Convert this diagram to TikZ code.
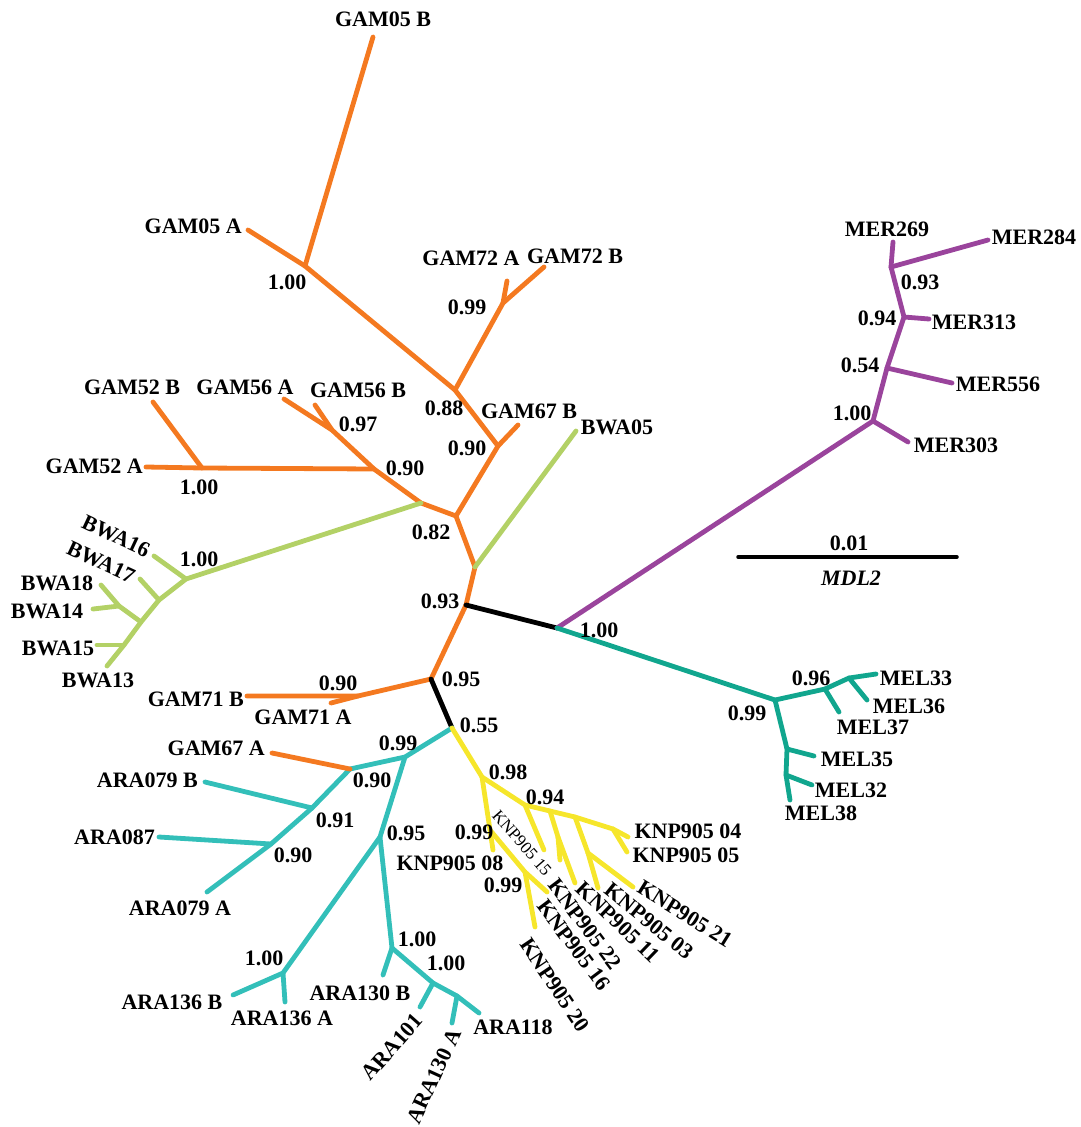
\documentclass[tikz,border=0pt]{standalone}
\usepackage{fontspec}
\setmainfont{Liberation Serif}
\definecolor{org}{HTML}{F47920}
\definecolor{lgr}{HTML}{B3D166}
\definecolor{pur}{HTML}{9A449C}
\definecolor{tea}{HTML}{11A68E}
\definecolor{cya}{HTML}{33BFB9}
\definecolor{yel}{HTML}{F6E62B}
\begin{document}
\begin{tikzpicture}[x=1pt,y=-1pt,
  br/.style={line width=4.8pt,line cap=round,line join=round},
  ob/.style={br,draw=org}, gb/.style={br,draw=lgr}, pb/.style={br,draw=pur},
  tb/.style={br,draw=tea}, cb/.style={br,draw=cya}, yb/.style={br,draw=yel},
  kb/.style={br,draw=black},
  lab/.style={font=\fontsize{22}{26}\selectfont\bfseries,inner sep=0pt},
  smalllab/.style={font=\fontsize{17}{20}\selectfont,inner sep=0pt}]
\useasboundingbox (0,0) rectangle (1080,1127);
% ---------- coordinates: orange ----------
\coordinate (g05B) at (373,37);  \coordinate (g05A) at (248,230);
\coordinate (n05) at (305,266);  \coordinate (n88) at (455,390);
\coordinate (n72) at (503,303);  \coordinate (g72A) at (507,281);
\coordinate (g72B) at (544,267); \coordinate (n90b) at (498,446);
\coordinate (g67B) at (518,425); \coordinate (n82) at (456,516);
\coordinate (nX) at (421,503);   \coordinate (n90a) at (374,469);
\coordinate (n52) at (202,468);  \coordinate (g52A) at (146,467);
\coordinate (g52B) at (153,402); \coordinate (n97) at (332,430);
\coordinate (g56A) at (284,399); \coordinate (g56B) at (315,405);
\coordinate (nY) at (475,567);   \coordinate (n93) at (466,605);
\coordinate (n95) at (431,679);  \coordinate (n71) at (358,696);
\coordinate (g71B) at (247,696); \coordinate (g71A) at (331,703);
\coordinate (n55) at (452,728);
% green
\coordinate (b1) at (186,579);  \coordinate (w16) at (154,556);
\coordinate (b2) at (159,600);  \coordinate (w17) at (140,579);
\coordinate (b3) at (141,622);  \coordinate (b4) at (119,606);
\coordinate (w18) at (101,585); \coordinate (w14) at (93,609);
\coordinate (b5) at (124,645);  \coordinate (w15) at (97,645);
\coordinate (w13) at (107,666); \coordinate (w05) at (576,431);
% purple
\coordinate (m1) at (557,628);
\coordinate (p1) at (873,421);  \coordinate (r303) at (908,442);
\coordinate (p2) at (887,368);  \coordinate (r556) at (952,383);
\coordinate (p3) at (904,317);  \coordinate (r313) at (929,319);
\coordinate (p4) at (891,267);  \coordinate (r269) at (893,242);
\coordinate (r284) at (988,240);
% teal
\coordinate (t1) at (775,700);  \coordinate (t2) at (825,689);
\coordinate (l37) at (839,712); \coordinate (t3) at (849,678);
\coordinate (l33) at (876,674); \coordinate (l36) at (867,700);
\coordinate (t4) at (787,749);  \coordinate (l35) at (814,756);
\coordinate (t5) at (786,775);  \coordinate (l32) at (812,785);
\coordinate (l38) at (790,800);
% cyan
\coordinate (a1) at (405,757);  \coordinate (a2) at (350,769);
\coordinate (g67A) at (272,753);\coordinate (a3) at (312,808);
\coordinate (r79B) at (205,782);\coordinate (a4) at (271,844);
\coordinate (r87) at (159,837); \coordinate (r79A) at (207,892);
\coordinate (a5) at (380,837);  \coordinate (a6) at (283,973);
\coordinate (r136B) at (233,995);\coordinate (r136A) at (285,1002);
\coordinate (a7) at (392,948);  \coordinate (r130B) at (383,975);
\coordinate (a8) at (433,983);  \coordinate (r101) at (420,1007);
\coordinate (a9) at (457,996);  \coordinate (r130A) at (452,1023);
\coordinate (r118) at (479,1013);
% yellow
\coordinate (y1) at (482,777);  \coordinate (y2) at (490,830);
\coordinate (k08) at (493,850); \coordinate (y3) at (525,872);
\coordinate (k16) at (547,892); \coordinate (k20) at (535,927);
\coordinate (y4) at (525,805);  \coordinate (k15) at (544,850);
\coordinate (y5) at (550,811);  \coordinate (y6) at (558,837);
\coordinate (k22) at (560,860); \coordinate (k11) at (575,883);
\coordinate (y7) at (575,817);  \coordinate (y8) at (588,853);
\coordinate (k03) at (598,888); \coordinate (k21) at (633,887);
\coordinate (y9) at (613,829);  \coordinate (k04) at (628,837);
\coordinate (k05) at (627,852);
% scale bar
\coordinate (s1) at (738,557); \coordinate (s2) at (957,557);
% ---------- branches ----------
\draw[ob] (g05B) -- (n05) -- (n88) -- (n90b) -- (n82) -- (nX) -- (n90a) -- (n52) -- (g52A);
\draw[ob] (g05A) -- (n05);
\draw[ob] (n88) -- (n72) -- (g72B);
\draw[ob] (n72) -- (g72A);
\draw[ob] (n90b) -- (g67B);
\draw[ob] (n52) -- (g52B);
\draw[ob] (n90a) -- (n97) -- (g56A);
\draw[ob] (n97) -- (g56B);
\draw[ob] (n82) -- (nY) -- (n93) -- (n95) -- (n71) -- (g71B);
\draw[ob] (n71) -- (g71A);
\draw[gb] (nX) -- (b1) -- (b2) -- (b3) -- (b5) -- (w13);
\draw[gb] (b1) -- (w16);
\draw[gb] (b2) -- (w17);
\draw[gb] (b3) -- (b4) -- (w18);
\draw[gb] (b4) -- (w14);
\draw[gb] (b5) -- (w15);
\draw[gb] (nY) -- (w05);
\draw[kb] (n93) -- (m1);
\draw[kb] (n95) -- (n55);
\draw[pb] (m1) -- (p1) -- (p2) -- (p3) -- (p4) -- (r269);
\draw[pb] (p1) -- (r303);
\draw[pb] (p2) -- (r556);
\draw[pb] (p3) -- (r313);
\draw[pb] (p4) -- (r284);
\draw[tb] (m1) -- (t1) -- (t2) -- (t3) -- (l33);
\draw[tb] (t2) -- (l37);
\draw[tb] (t3) -- (l36);
\draw[tb] (t1) -- (t4) -- (t5) -- (l38);
\draw[tb] (t4) -- (l35);
\draw[tb] (t5) -- (l32);
\draw[cb] (n55) -- (a1) -- (a2) -- (a3) -- (a4) -- (r79A);
\draw[ob] (a2) -- (g67A);
\draw[cb] (a3) -- (r79B);
\draw[cb] (a4) -- (r87);
\draw[cb] (a1) -- (a5) -- (a6) -- (r136B);
\draw[cb] (a6) -- (r136A);
\draw[cb] (a5) -- (a7) -- (a8) -- (a9) -- (r118);
\draw[cb] (a7) -- (r130B);
\draw[cb] (a8) -- (r101);
\draw[cb] (a9) -- (r130A);
\draw[yb] (n55) -- (y1) -- (y2) -- (k08);
\draw[yb] (y2) -- (y3) -- (k16);
\draw[yb] (y3) -- (k20);
\draw[yb] (y1) -- (y4) -- (y5) -- (y7) -- (y9) -- (k04);
\draw[yb] (y4) -- (k15);
\draw[yb] (y5) -- (y6) -- (k11);
\draw[yb] (y6) -- (k22);
\draw[yb] (y7) -- (y8) -- (k21);
\draw[yb] (y8) -- (k03);
\draw[yb] (y9) -- (k05);
\draw[line width=3.5pt,line cap=round] (s1) -- (s2);
% ---------- labels ----------
\node[lab] (LG05B) at (383,19) {GAM05 B};
\node[lab,anchor=east] (LG05A) at (242,226) {GAM05 A};
\node[lab] (S1) at (287,282) {1.00};
\node[lab] (LG72A) at (471,258) {GAM72 A};
\node[lab] (LG72B) at (575,256) {GAM72 B};
\node[lab] (S2) at (467,307) {0.99};
\node[lab] (S3) at (444,408) {0.88};
\node[lab] (LG67B) at (529,411) {GAM67 B};
\node[lab] (S4) at (467,448) {0.90};
\node[lab] (S5) at (431,532) {0.82};
\node[lab] (LG52B) at (132,387) {GAM52 B};
\node[lab] (LG56A) at (245,387) {GAM56 A};
\node[lab] (LG56B) at (358,390) {GAM56 B};
\node[lab] (S6) at (358,424) {0.97};
\node[lab] (S7) at (405,468) {0.90};
\node[lab,anchor=east] (LG52A) at (143,466) {GAM52 A};
\node[lab] (S8) at (199,487) {1.00};
\node[lab] (S9) at (199,559) {1.00};
\node[lab,rotate=-25] (LW16) at (116,536) {BWA16};
\node[lab,rotate=-25] (LW17) at (101,562) {BWA17};
\node[lab] (LW18) at (57,583) {BWA18};
\node[lab] (LW14) at (47,611) {BWA14};
\node[lab] (LW15) at (58,648) {BWA15};
\node[lab] (LW13) at (98,680) {BWA13};
\node[lab] (LW05) at (617,427) {BWA05};
\node[lab] (S10) at (440,601) {0.93};
\node[lab] (S11) at (461,679) {0.95};
\node[lab] (S12) at (479,725) {0.55};
\node[lab] (S13) at (338,683) {0.90};
\node[lab,anchor=east] (LG71B) at (244,699) {GAM71 B};
\node[lab] (LG71A) at (303,717) {GAM71 A};
\node[lab,anchor=east] (LG67A) at (265,748) {GAM67 A};
\node[lab,anchor=east] (LR79B) at (198,780) {ARA079 B};
\node[lab,anchor=east] (LR87) at (155,837) {ARA087};
\node[lab] (LR79A) at (180,908) {ARA079 A};
\node[lab] (S14) at (398,743) {0.99};
\node[lab] (S15) at (372,780) {0.90};
\node[lab] (S16) at (335,820) {0.91};
\node[lab] (S17) at (293,855) {0.90};
\node[lab] (S18) at (406,833) {0.95};
\node[lab] (S19) at (264,958) {1.00};
\node[lab] (LR136B) at (172,1002) {ARA136 B};
\node[lab] (LR136A) at (282,1018) {ARA136 A};
\node[lab] (S20) at (417,939) {1.00};
\node[lab] (S21) at (446,963) {1.00};
\node[lab] (LR130B) at (360,993) {ARA130 B};
\node[lab,rotate=48.5] (LR101) at (392,1047) {ARA101};
\node[lab,rotate=65.5] (LR130A) at (434,1076) {ARA130 A};
\node[lab] (LR118) at (513,1027) {ARA118};
\node[lab] (LK08) at (450,863) {KNP905 08};
\node[lab] (S22) at (508,772) {0.98};
\node[lab] (S23) at (545,797) {0.94};
\node[lab] (S24) at (474,832) {0.99};
\node[lab] (S25) at (503,885) {0.99};
\node[smalllab,rotate=-49] (LK15) at (522,843) {KNP905 15};
\node[lab] (LK04) at (688,831) {KNP905 04};
\node[lab] (LK05) at (686,855) {KNP905 05};
\node[lab,rotate=-53] (LK22) at (585,924) {KNP905 22};
\node[lab,rotate=-53] (LK16) at (574,945) {KNP905 16};
\node[lab,rotate=-44] (LK11) at (618,922) {KNP905 11};
\node[lab,rotate=-39] (LK03) at (649,921) {KNP905 03};
\node[lab,rotate=-32] (LK21) at (685,914) {KNP905 21};
\node[lab,rotate=-56] (LK20) at (555,985) {KNP905 20};
\node[lab] (LM269) at (887,229) {MER269};
\node[lab] (LM284) at (1034,237) {MER284};
\node[lab] (S26) at (920,282) {0.93};
\node[lab] (S27) at (877,318) {0.94};
\node[lab] (LM313) at (974,322) {MER313};
\node[lab] (S28) at (860,365) {0.54};
\node[lab] (LM556) at (998,384) {MER556};
\node[lab] (S29) at (852,413) {1.00};
\node[lab] (LM303) at (956,445) {MER303};
\node[lab] (SB1) at (849,543) {0.01};
\node[lab,font=\fontsize{22}{26}\selectfont\bfseries\itshape] (SB2) at (851,578) {MDL2};
\node[lab] (S30) at (599,630) {1.00};
\node[lab] (S31) at (747,713) {0.99};
\node[lab] (S32) at (811,678) {0.96};
\node[lab] (LE33) at (916,678) {MEL33};
\node[lab] (LE36) at (909,706) {MEL36};
\node[lab] (LE37) at (873,727) {MEL37};
\node[lab] (LE35) at (857,759) {MEL35};
\node[lab] (LE32) at (851,790) {MEL32};
\node[lab] (LE38) at (821,813) {MEL38};
\end{tikzpicture}
\end{document}
